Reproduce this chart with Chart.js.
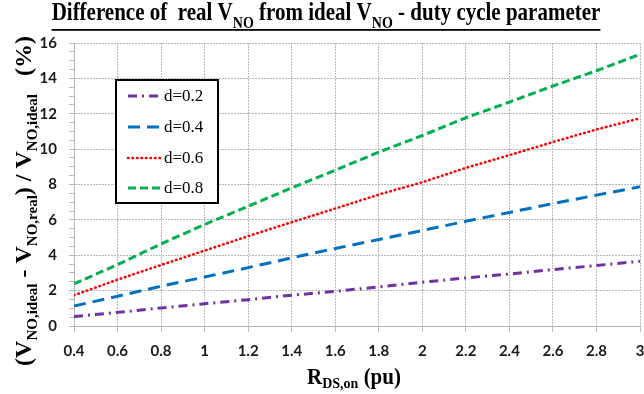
<!DOCTYPE html>
<html><head><meta charset="utf-8">
<script src="https://cdn.jsdelivr.net/npm/chart.js@4/dist/chart.umd.min.js"></script>
<style>html,body{margin:0;padding:0;background:#fff;}#c{display:block;}</style>
</head><body>
<canvas id="c" width="644" height="394"></canvas>
<script>
const xValues = [0.4,0.6,0.8,1.0,1.2,1.4,1.6,1.8,2.0,2.2,2.4,2.6,2.8,3.0];
const d02 = [0.53,0.77,1.02,1.26,1.49,1.74,1.96,2.21,2.47,2.72,2.94,3.19,3.42,3.66];
const d04 = [1.13,1.68,2.25,2.77,3.30,3.85,4.38,4.89,5.40,5.92,6.42,6.92,7.40,7.87];
const d06 = [1.74,2.62,3.45,4.26,5.08,5.87,6.64,7.43,8.13,8.94,9.66,10.40,11.11,11.74];
const d08 = [2.38,3.47,4.64,5.74,6.77,7.81,8.81,9.83,10.77,11.77,12.66,13.57,14.43,15.36];
const seriesNames = ['d=0.2','d=0.4','d=0.6','d=0.8'];
const xTickLabels = ['0.4','0.6','0.8','1','1.2','1.4','1.6','1.8','2','2.2','2.4','2.6','2.8','3'];
const yTickLabels = ['0','2','4','6','8','10','12','14','16'];

const styles = [
  {color:'#7030A0', dash:[9,5,2,5], width:3, cap:'butt'},
  {color:'#0070C0', dash:[12,7], width:3, cap:'butt'},
  {color:'#FF0000', dash:[0.5,4], width:2.6, cap:'round'},
  {color:'#00B050', dash:[8,4], width:3, cap:'butt'}
];
const allSeries = [d02,d04,d06,d08];

const datasets = allSeries.map((s,i)=>({
  label: seriesNames[i],
  data: xValues.map((x,j)=>({x:x,y:s[j]})),
  borderColor: styles[i].color,
  backgroundColor: styles[i].color,
  borderWidth: styles[i].width,
  borderDash: styles[i].dash,
  borderCapStyle: styles[i].cap,
  pointRadius: 0,
  tension: 0,
  fill: false
}));

const serif = '"Liberation Serif","Times New Roman",serif';
const GRID = '#B8B8B8';

function segWidth(ctx, segs, big, sub){
  let w=0; for(const s of segs){ctx.font = s.sub?sub:big; w+=ctx.measureText(s.t).width;} return w;
}
function drawSegs(ctx, segs, x, y, big, sub, dy){
  for(const s of segs){
    ctx.font = s.sub?sub:big;
    ctx.fillText(s.t, x, y + (s.sub?dy:0));
    x += ctx.measureText(s.t).width;
  }
  return x;
}

const textPlugin = {
  id:'texts',
  afterDraw(chart){
    const ctx = chart.ctx;
    ctx.save();
    ctx.fillStyle = '#000';
    ctx.textBaseline = 'alphabetic';
    ctx.textAlign = 'left';
    // Title (slightly stretched vertically like the reference)
    const tSegs = [{t:'Difference of  real V'},{t:'NO',sub:1},{t:' from ideal V'},{t:'NO',sub:1},{t:' - duty cycle parameter'}];
    const tBig = 'bold 21px '+serif, tSub = 'bold 14px '+serif;
    const tw = segWidth(ctx,tSegs,tBig,tSub);
    const tx = 326 - tw/2;
    ctx.save();
    ctx.translate(0, 20);
    ctx.scale(1, 1.2);
    drawSegs(ctx,tSegs,tx,0,tBig,tSub,6.5);
    ctx.restore();
    ctx.fillRect(tx, 29, tw, 1.8);
    // X axis title
    const xSegs = [{t:'R'},{t:'DS,on',sub:1},{t:' (pu)'}];
    const xBig = 'bold 21px '+serif, xSub = 'bold 14px '+serif;
    const xw = segWidth(ctx,xSegs,xBig,xSub);
    ctx.save();
    ctx.translate(0, 384);
    ctx.scale(1, 1.1);
    drawSegs(ctx,xSegs,354 - xw/2,0,xBig,xSub,4);
    ctx.restore();
    // Y axis title
    const ySegs = [{t:'(V'},{t:'NO,ideal',sub:1},{t:' - V'},{t:'NO,real',sub:1},{t:') / V'},{t:'NO,ideal',sub:1},{t:'   (%)'}];
    const yBig = 'bold 24px '+serif, ySub = 'bold 15px '+serif;
    const yw = segWidth(ctx,ySegs,yBig,ySub);
    ctx.translate(31, 201);
    ctx.rotate(-Math.PI/2);
    drawSegs(ctx,ySegs,-yw/2,0,yBig,ySub,6);
    ctx.restore();

    // Legend box
    ctx.save();
    const bx=116, by=80, bw=102, bh=123;
    ctx.fillStyle='#fff';
    ctx.fillRect(bx,by,bw,bh);
    ctx.strokeStyle='#000'; ctx.lineWidth=2;
    ctx.strokeRect(bx,by,bw,bh);
    const rows=[96,127,158,188];
    seriesNames.forEach((n,i)=>{
      const st=styles[i];
      ctx.beginPath();
      ctx.strokeStyle=st.color; ctx.lineWidth=st.width; ctx.setLineDash(st.dash); ctx.lineCap=st.cap;
      ctx.moveTo(128,rows[i]); ctx.lineTo(162,rows[i]); ctx.stroke();
      ctx.setLineDash([]);
      ctx.fillStyle='#000';
      ctx.font='17px '+serif;
      ctx.textBaseline='middle';
      ctx.fillText(n,164,rows[i]+1);
    });
    ctx.restore();
  }
};

new Chart(document.getElementById('c'), {
  type:'line',
  data:{datasets},
  options:{
    responsive:false,
    animation:false,
    devicePixelRatio:1,
    layout:{padding:{top:43,left:0,right:0,bottom:0}},
    plugins:{legend:{display:false},title:{display:false},tooltip:{enabled:false}},
    scales:{
      x:{
        type:'linear', min:0.4, max:3,
        afterBuildTicks(scale){ scale.ticks = xTickLabels.map(v=>({value:parseFloat(v)})); },
        afterFit(scale){ scale.height = 68; scale.paddingRight = 4; scale.paddingLeft = 0; },
        ticks:{
          autoSkip:false, maxRotation:0, padding:10,
          color:'#1a1a1a',
          font:{family:'Lato', weight:'bold', size:15},
          callback(v){ const i = xTickLabels.findIndex(t=>Math.abs(parseFloat(t)-v)<1e-6); return i>=0?xTickLabels[i]:''; }
        },
        grid:{color:GRID, lineWidth:1, tickColor:GRID, tickLength:6, tickBorderDash:[]},
        border:{display:true, color:GRID, width:1, dash:[2,1]}
      },
      y:{
        type:'linear', min:0, max:16,
        afterBuildTicks(scale){ const t=[]; for(let k=0;k<=32;k++) t.push({value:k*0.5}); scale.ticks=t; },
        afterFit(scale){ scale.width = 74; },
        ticks:{
          autoSkip:false, padding:12,
          color:'#1a1a1a',
          font:{family:'Lato', weight:'bold', size:15},
          callback(v){ const i = yTickLabels.findIndex(t=>Math.abs(parseFloat(t)-v)<1e-6); return i>=0?yTickLabels[i]:''; }
        },
        grid:{
          color(c){ return (c.tick && Math.abs(c.tick.value%2)<1e-6)?GRID:'rgba(0,0,0,0)'; },
          lineWidth:1, tickColor:GRID, tickLength:5, tickBorderDash:[]
        },
        border:{display:true, color:GRID, width:1, dash:[2,1]}
      }
    }
  },
  plugins:[textPlugin]
});
</script>
</body></html>
